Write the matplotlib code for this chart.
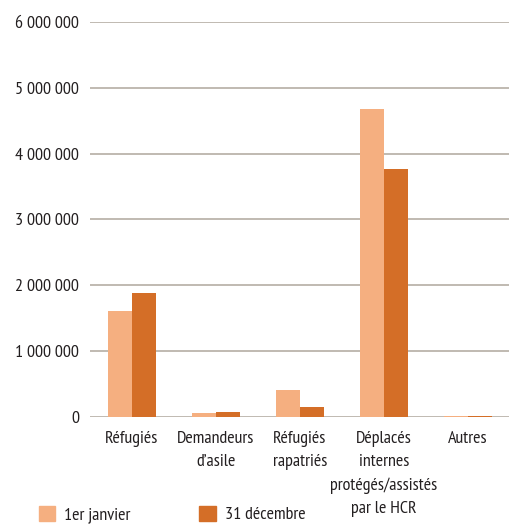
import matplotlib
matplotlib.use("Agg")
import matplotlib.pyplot as plt
from matplotlib.patches import Patch
from matplotlib.ticker import FuncFormatter

# donnees
categories = ["Réfugiés", "Demandeurs\nd’asile", "Réfugiés\nrapatriés",
              "Déplacés\ninternes\nprotégés/assistés\npar le HCR", "Autres"]
janvier = [1610000, 63000, 410000, 4680000, 15000]
decembre = [1890000, 74000, 150000, 3760000, 20000]
series_labels = ["1er janvier", "31 décembre"]
yticks = [0, 1000000, 2000000, 3000000, 4000000, 5000000, 6000000]

LIGHT = "#F5AF80"
DARK = "#D46E27"
GRID = "#B5AEA4"
TXT = "#231f20"
FS = 13

plt.rcParams["font.family"] = ["PT Sans Narrow", "DejaVu Sans"]

fig = plt.figure(figsize=(5.10, 5.24), dpi=100)
ax = fig.add_axes([90 / 510, 1 - 417 / 524, 420 / 510, 395 / 524])

w = 0.29
x = list(range(len(categories)))
ax.bar([i - w / 2 for i in x], janvier, width=w, color=LIGHT, zorder=3)
ax.bar([i + w / 2 for i in x], decembre, width=w, color=DARK, zorder=3)

ax.set_xlim(-0.5, len(categories) - 0.5)
ax.set_ylim(0, 6000000)
ax.set_yticks(yticks)
ax.yaxis.set_major_formatter(FuncFormatter(lambda v, p: f"{v:,.0f}".replace(",", " ")))
ax.grid(axis="y", color=GRID, lw=1.2, zorder=0)
ax.set_xticks(x)
ax.set_xticklabels(categories, linespacing=1.6, va="top")
ax.tick_params(axis="both", length=0, labelsize=FS, colors=TXT)
ax.tick_params(axis="y", pad=8)
ax.tick_params(axis="x", pad=10)
for s in ax.spines.values():
    s.set_visible(False)

handles = [Patch(color=LIGHT), Patch(color=DARK)]
fig.legend(handles, series_labels, loc="lower left", ncol=2,
           bbox_to_anchor=(0.045, -0.03), frameon=False, fontsize=FS,
           handlelength=0.9, handleheight=0.9, handletextpad=0.5,
           columnspacing=3.8, labelcolor=TXT)

fig.savefig("out.png", dpi=100)
